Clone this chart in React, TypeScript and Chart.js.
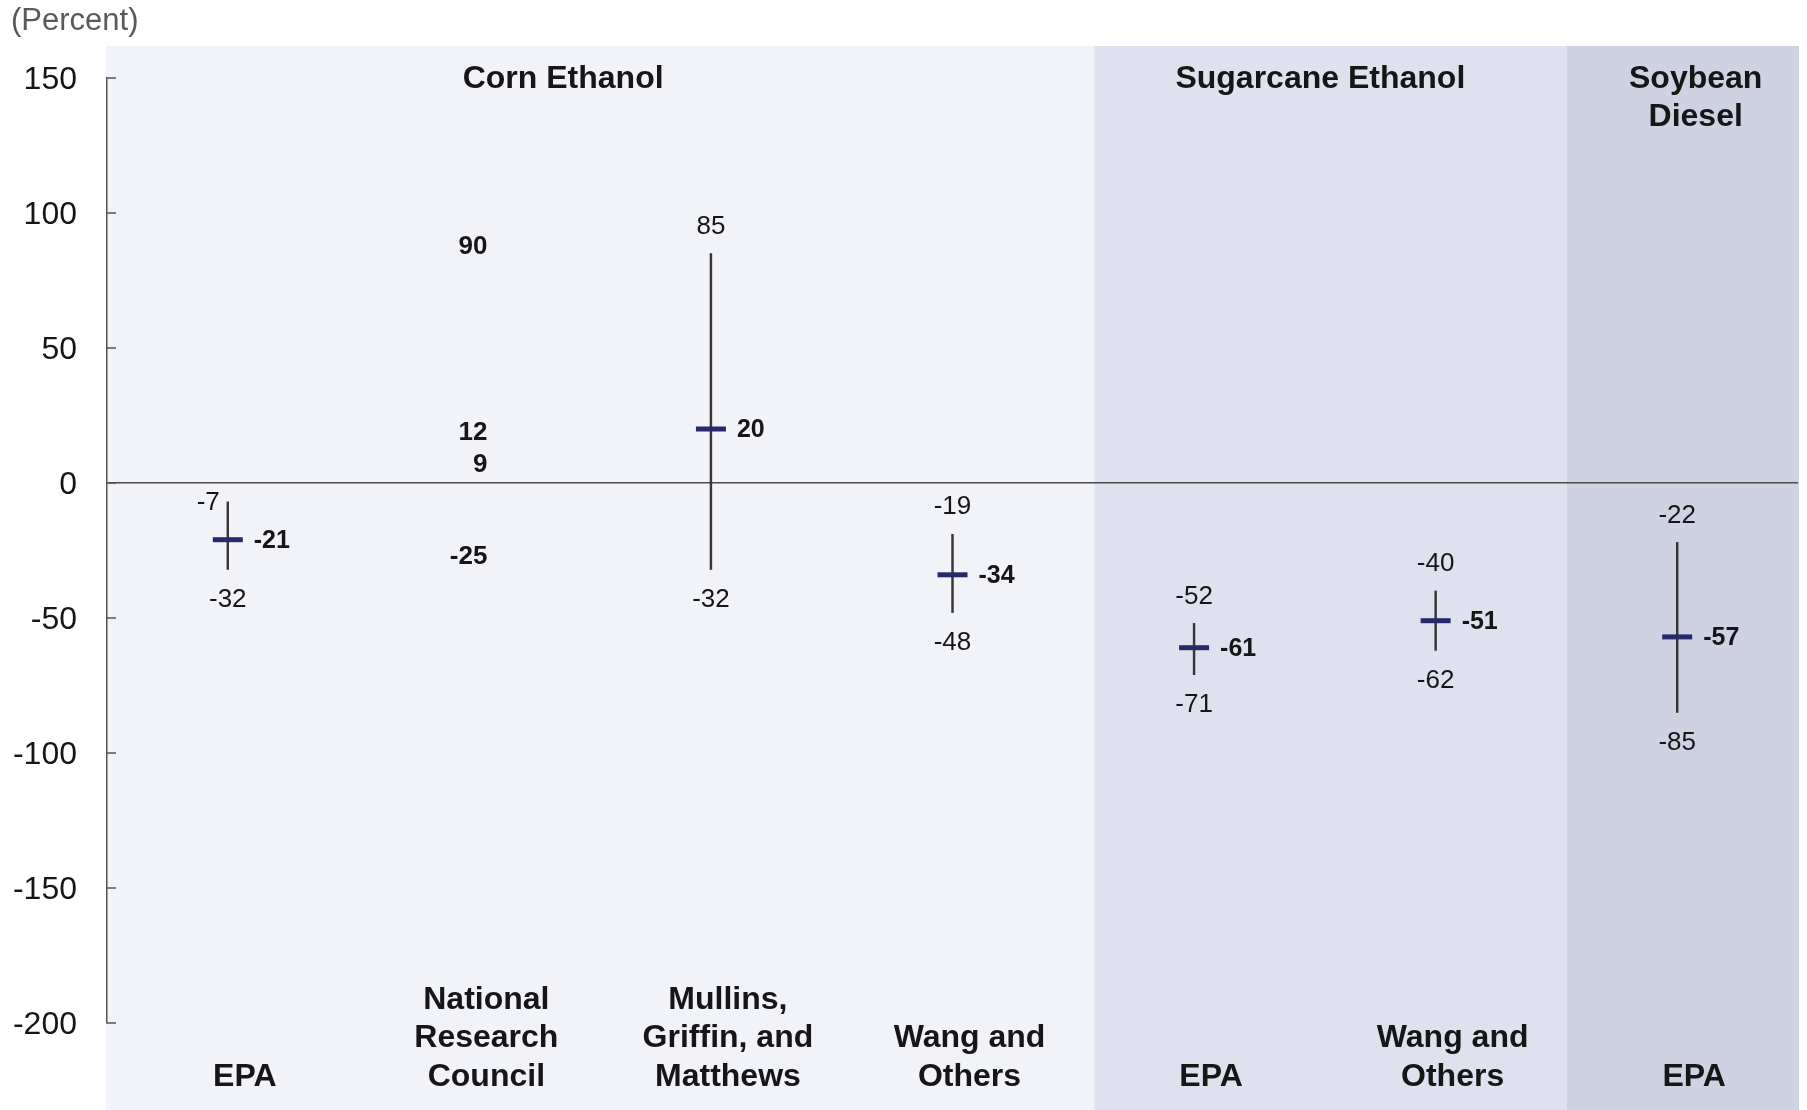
import React, { useEffect, useRef } from 'react';
import { Chart, registerables } from 'chart.js';

Chart.register(...registerables);

// ---------- data ----------
const categories = [
  'EPA (corn)',
  'National Research Council',
  'Mullins, Griffin, and Matthews',
  'Wang and Others (corn)',
  'EPA (sugarcane)',
  'Wang and Others (sugarcane)',
  'EPA (soybean)',
];
const categoryLabelLines = [
  ['EPA'],
  ['National', 'Research', 'Council'],
  ['Mullins,', 'Griffin, and', 'Matthews'],
  ['Wang and', 'Others'],
  ['EPA'],
  ['Wang and', 'Others'],
  ['EPA'],
];
const groupTitles = [['Corn Ethanol'], ['Sugarcane Ethanol'], ['Soybean', 'Diesel']];
const groupSizes = [4, 2, 1];
const lowValues: (number | null)[] = [-32, null, -32, -48, -71, -62, -85];
const highValues: (number | null)[] = [-7, null, 85, -19, -52, -40, -22];
const centralValues: (number | null)[] = [-21, null, 20, -34, -61, -51, -57];
const nrcCategory = 'National Research Council';
const nrcValues = [90, 12, 9, -25];
const yTickValues = [150, 100, 50, 0, -50, -100, -150, -200];
const yUnitLabel = '(Percent)';

// ---------- styles ----------
const GROUP_COLORS = ['#F2F3F8', '#DFE1EE', '#CFD2E3'];
const GROUP_EDGE_SHIFT = [21, 10]; // px nudges of the shaded panel edges
const TITLE_SHIFT = [-37, -10, 13]; // px nudges of the panel titles
const SANS = "'Liberation Sans', Arial, sans-serif";
const TEXT = '#161616';
const MARKER = '#26296A';

function groupBounds(chartArea: any) {
  const catW = (chartArea.right - chartArea.left) / categories.length;
  const out: { left: number; right: number }[] = [];
  let start = 0;
  groupSizes.forEach((size, g) => {
    const left = g === 0 ? chartArea.left - 1 : chartArea.left + start * catW + GROUP_EDGE_SHIFT[g - 1];
    const right =
      g === groupSizes.length - 1 ? chartArea.right + 1 : chartArea.left + (start + size) * catW + GROUP_EDGE_SHIFT[g];
    out.push({ left, right });
    start += size;
  });
  return out;
}

const overlayPlugin = {
  id: 'overlay',
  beforeDraw(chart: any) {
    const { ctx, chartArea, width, height } = chart;
    ctx.save();
    ctx.fillStyle = '#ffffff';
    ctx.fillRect(0, 0, width, height);
    groupBounds(chartArea).forEach((b, g) => {
      ctx.fillStyle = GROUP_COLORS[g];
      ctx.fillRect(b.left, chartArea.top - 32, b.right - b.left, height - (chartArea.top - 32));
    });
    // unit label
    ctx.fillStyle = '#595959';
    ctx.font = `31px ${SANS}`;
    ctx.textAlign = 'left';
    ctx.textBaseline = 'middle';
    ctx.fillText(yUnitLabel, 11, 21);
    ctx.restore();
  },
  afterDraw(chart: any) {
    const { ctx, chartArea, scales } = chart;
    const x = scales.x;
    const y = scales.y;
    ctx.save();
    // inward tick marks
    ctx.strokeStyle = '#555555';
    ctx.lineWidth = 1.5;
    yTickValues.forEach((v) => {
      const py = y.getPixelForValue(v);
      ctx.beginPath();
      ctx.moveTo(chartArea.left, py);
      ctx.lineTo(chartArea.left + 9, py);
      ctx.stroke();
    });

    // group titles
    ctx.fillStyle = TEXT;
    ctx.font = `bold 32px ${SANS}`;
    ctx.textAlign = 'center';
    ctx.textBaseline = 'middle';
    groupBounds(chartArea).forEach((b, g) => {
      const cx = (b.left + b.right) / 2 + TITLE_SHIFT[g];
      groupTitles[g].forEach((line, li) => {
        ctx.fillText(line, cx, chartArea.top + 1 + li * 38);
      });
    });

    // category labels at the bottom
    ctx.font = `bold 32px ${SANS}`;
    categoryLabelLines.forEach((lines, i) => {
      const cx = x.getPixelForValue(i) + 17;
      const n = lines.length;
      lines.forEach((line, li) => {
        ctx.fillText(line, cx, 1077 - (n - 1 - li) * 38.6);
      });
    });

    // high / low labels
    const zeroPx = y.getPixelForValue(0);
    ctx.font = `26px ${SANS}`;
    ctx.fillStyle = TEXT;
    ctx.textBaseline = 'middle';
    categories.forEach((_, i) => {
      const hi = highValues[i];
      const lo = lowValues[i];
      if (hi == null || lo == null) return;
      const px = x.getPixelForValue(i);
      const topPx = y.getPixelForValue(hi);
      const hy = topPx - 27;
      if (hi < 0 && hy - 12 < zeroPx) {
        // no room above the line end: put the label beside it
        ctx.textAlign = 'right';
        ctx.fillText(String(hi), px - 8, topPx + 1);
      } else {
        ctx.textAlign = 'center';
        ctx.fillText(String(hi), px, hy);
      }
      ctx.textAlign = 'center';
      ctx.fillText(String(lo), px, y.getPixelForValue(lo) + 30);
    });

    // central estimate labels
    ctx.font = `bold 25px ${SANS}`;
    ctx.textAlign = 'left';
    ctx.textBaseline = 'middle';
    const meanMeta = chart.getDatasetMeta(1);
    meanMeta.data.forEach((pt: any, i: number) => {
      const v = centralValues[i];
      if (v == null) return;
      ctx.fillText(String(v), pt.x + 26, pt.y + 1);
    });

    // NRC estimates (text only), upper label moved up if overlapping
    ctx.font = `bold 26px ${SANS}`;
    const nrcMeta = chart.getDatasetMeta(2);
    const pts = nrcMeta.data.map((pt: any, i: number) => ({ x: pt.x, y: pt.y + 6.5, v: nrcValues[i] }));
    pts.sort((a: any, b: any) => b.y - a.y);
    const minGap = 32;
    for (let k = 1; k < pts.length; k++) {
      const gap = pts[k - 1].y - pts[k].y;
      if (gap < minGap) pts[k].y -= minGap - gap;
    }
    ctx.textAlign = 'right';
    pts.forEach((p: any) => {
      ctx.fillText(String(p.v), p.x + 18, p.y);
    });
    ctx.restore();
  },
};

export default function App() {
  const canvasRef = useRef<HTMLCanvasElement | null>(null);

  useEffect(() => {
    document.body.style.margin = '0';
    document.body.style.overflow = 'hidden';
    const canvas = canvasRef.current;
    if (!canvas) return;
    const chart = new Chart(canvas, {
      type: 'bar',
      data: {
        labels: categories,
        datasets: [
          {
            type: 'bar',
            label: 'Range',
            data: lowValues.map((lo, i) => (lo == null || highValues[i] == null ? null : [lo, highValues[i] as number])) as any,
            backgroundColor: '#363636',
            barThickness: 1.8,
            order: 2,
          },
          {
            type: 'line',
            label: 'Central estimate',
            data: centralValues as any,
            showLine: false,
            pointStyle: 'line',
            pointRadius: 15,
            pointBorderWidth: 5,
            pointBorderColor: MARKER,
            pointBackgroundColor: MARKER,
            order: 1,
          },
          {
            type: 'line',
            label: 'NRC estimates',
            data: nrcValues.map((v) => ({ x: nrcCategory, y: v })) as any,
            showLine: false,
            pointRadius: 0,
            order: 0,
          },
        ],
      },
      options: {
        responsive: false,
        animation: false,
        events: [],
        layout: { autoPadding: false, padding: { left: 0, right: 9, top: 78, bottom: 87 } },
        plugins: {
          legend: { display: false },
          tooltip: { enabled: false },
        },
        scales: {
          x: {
            type: 'category',
            display: false,
            offset: true,
          },
          y: {
            min: -200,
            max: 150,
            afterBuildTicks: (scale: any) => {
              scale.ticks = yTickValues.map((v) => ({ value: v }));
            },
            afterFit: (scale: any) => {
              scale.width = 107;
            },
            ticks: {
              padding: 30,
              labelOffset: 2,
              color: TEXT,
              font: { family: SANS, size: 32 },
            },
            grid: {
              drawTicks: false,
              lineWidth: 1.5,
              color: (c: any) => (c.tick && c.tick.value === 0 ? '#4a4a4a' : 'rgba(0,0,0,0)'),
            },
            border: { display: true, color: '#555555', width: 1.5 },
          },
        },
      },
      plugins: [overlayPlugin],
    });
    return () => chart.destroy();
  }, []);

  return (
    <div style={{ position: 'absolute', left: 0, top: 0, width: 1807, height: 1110 }}>
      <canvas ref={canvasRef} width={1807} height={1110} />
    </div>
  );
}
